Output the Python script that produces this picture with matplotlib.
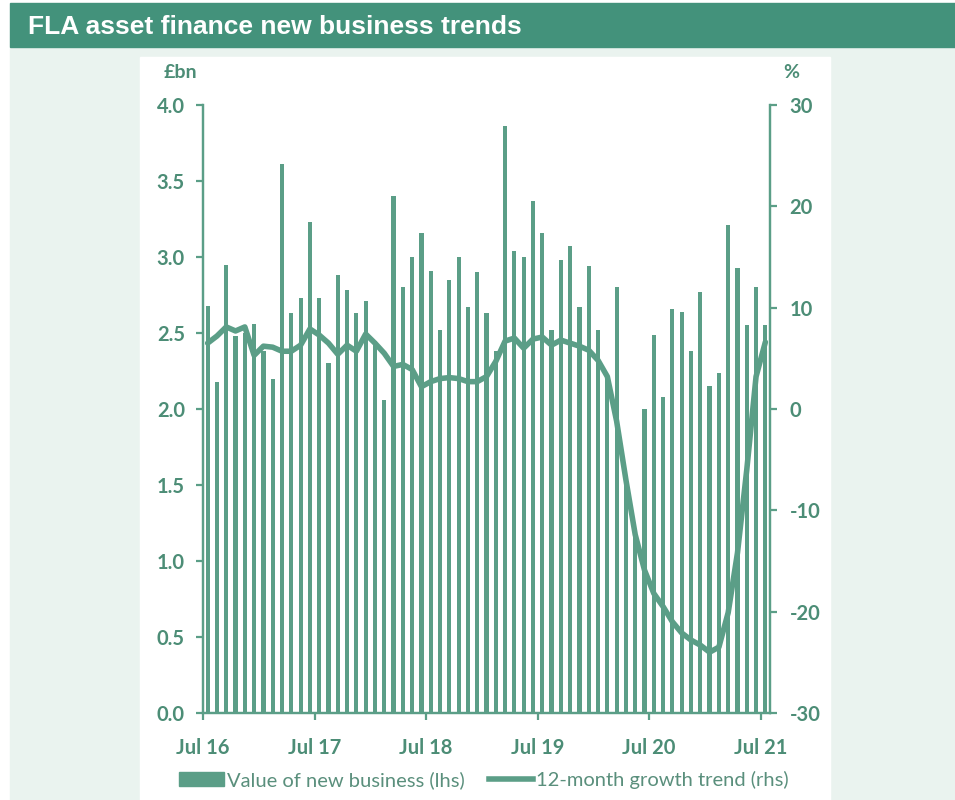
import matplotlib.pyplot as plt
from matplotlib.patches import Rectangle
from matplotlib.lines import Line2D

plt.rcParams["axes.unicode_minus"] = False

# monthly data, Jul 2016 - Jul 2021
new_business = [2.68, 2.18, 2.95, 2.48, 2.50, 2.56, 2.38, 2.20, 3.61, 2.63, 2.73, 3.23,
                2.73, 2.30, 2.88, 2.78, 2.63, 2.71, 2.45, 2.06, 3.40, 2.80, 3.00, 3.16,
                2.91, 2.52, 2.85, 3.00, 2.67, 2.90, 2.63, 2.38, 3.86, 3.04, 3.00, 3.37,
                3.16, 2.52, 2.98, 3.07, 2.67, 2.94, 2.52, 2.20, 2.80, 1.52, 1.18, 2.00,
                2.49, 2.08, 2.66, 2.64, 2.38, 2.77, 2.15, 2.24, 3.21, 2.93, 2.55, 2.80,
                2.55]
growth = [6.5, 7.2, 8.1, 7.7, 8.1, 5.3, 6.2, 6.1, 5.7, 5.7, 6.3, 7.9,
          7.3, 6.5, 5.4, 6.3, 5.7, 7.4, 6.5, 5.5, 4.2, 4.4, 3.9, 2.2,
          2.7, 3.0, 3.1, 3.0, 2.7, 2.7, 3.2, 4.7, 6.7, 7.0, 6.0, 6.9,
          7.1, 6.3, 6.8, 6.5, 6.2, 5.8, 4.8, 3.2, -1.2, -7.0, -12.4, -15.9,
          -18.2, -19.5, -21.0, -22.1, -22.8, -23.3, -24.0, -23.5, -20.1, -14.2, -6.0, 3.2,
          6.6]
tick_labels = ["Jul 16", "Jul 17", "Jul 18", "Jul 19", "Jul 20", "Jul 21"]

green = "#5b9e87"
text_green = "#4c8d76"
months = list(range(len(new_business)))

fig = plt.figure(figsize=(9.55, 8), dpi=100)

# background panels
fig.patches.append(Rectangle((10/955, 0), 945/955, 1 - 48/800, transform=fig.transFigure,
                             color="#eaf3ef", zorder=-3))
fig.patches.append(Rectangle((140/955, 0), 690/955, 1 - 57/800, transform=fig.transFigure,
                             color="white", zorder=-2))
fig.patches.append(Rectangle((10/955, 1 - 47/800), 945/955, 44/800, transform=fig.transFigure,
                             color="#43927b", zorder=-1))
fig.text(28/955, 1 - 27/800, "FLA asset finance new business trends", color="white",
         fontsize=19, fontweight="bold", family="Liberation Sans", va="center")

ax = fig.add_axes([203/955, 1 - 713/800, 567/955, 608/800])
ax.patch.set_alpha(0)
ax.bar(months, new_business, width=0.45, color=green, zorder=1)
ax.set_ylim(0, 4)
ax.set_xlim(-0.5, len(months) - 0.5)
ax.set_yticks([0, 0.5, 1, 1.5, 2, 2.5, 3, 3.5, 4])
ax.set_yticklabels([f"{v:.1f}" for v in ax.get_yticks()])
ax.set_xticks([-0.5 + 12 * k for k in range(len(tick_labels))])
ax.set_xticklabels(tick_labels)

ax2 = ax.twinx()
ax2.plot(months, growth, color=green, lw=4, solid_joinstyle="round", solid_capstyle="round")
ax2.set_ylim(-30, 30)
ax2.set_yticks(range(-30, 31, 10))

for a in (ax, ax2):
    a.spines["top"].set_visible(False)
    for s in a.spines.values():
        s.set_color(green)
        s.set_linewidth(1.6)
    a.tick_params(colors=green, labelcolor=text_green, length=5, width=1.6, labelsize=14.5)
    for lab in a.get_xticklabels() + a.get_yticklabels():
        lab.set_family("Lato")
        lab.set_fontweight("bold")
ax.tick_params(axis="y", pad=8)
ax.tick_params(axis="x", pad=13)
ax2.tick_params(axis="y", pad=9)

fig.text(180/955, 1 - 72/800, "£bn", color=text_green, fontsize=14, fontweight="bold",
         family="Lato", ha="center", va="center")
fig.text(791/955, 1 - 72/800, "%", color=text_green, fontsize=14, fontweight="bold",
         family="Lato", ha="center", va="center")

handles = [Rectangle((0, 0), 1, 1, color=green),
           Line2D([], [], color=green, lw=4)]
fig.legend(handles, ["Value of new business (lhs)", "12-month growth trend (rhs)"],
           loc="center", bbox_to_anchor=(484/955, 1 - 780/800), ncol=2, frameon=False,
           handlelength=2.2, handleheight=0.65, handletextpad=0.15, columnspacing=1.2,
           prop={"family": "Lato", "size": 14.5}, labelcolor="#5a8f7c")

fig.savefig("out.png", dpi=100)
